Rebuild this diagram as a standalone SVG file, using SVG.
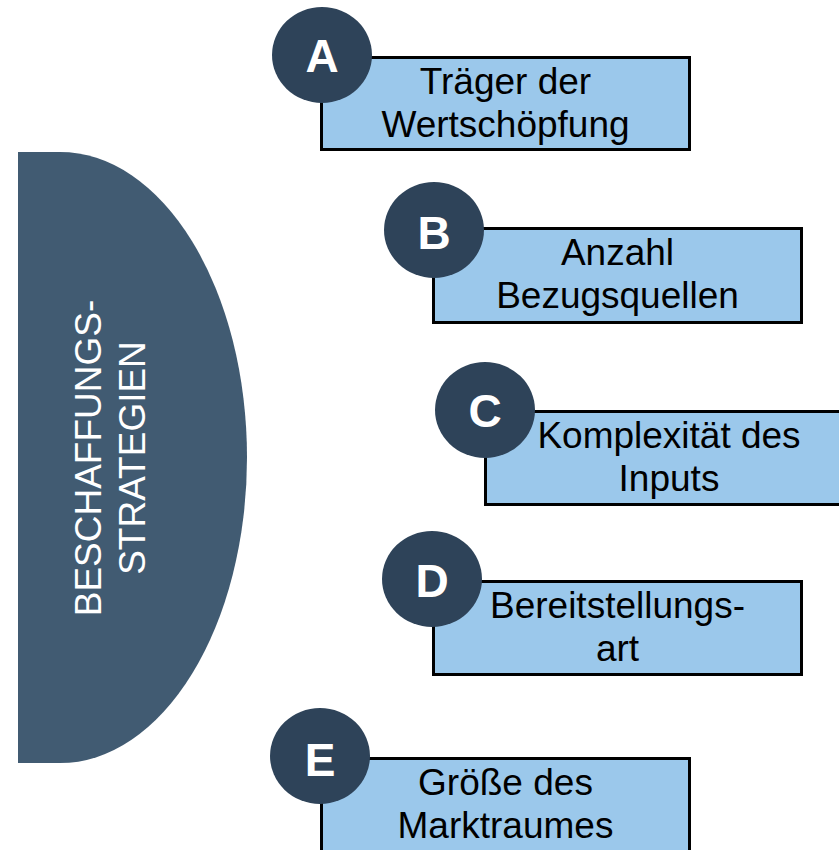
<svg xmlns="http://www.w3.org/2000/svg" width="839" height="850" viewBox="0 0 839 850">
<style>
.box{fill:#9bc8eb;stroke:#000;stroke-width:3}
.badge{fill:#2e4359}
.lbl{font-family:"Liberation Sans",Arial,sans-serif;font-size:37px;fill:#000;text-anchor:middle}
.ltr{font-family:"Liberation Sans",Arial,sans-serif;font-size:46px;font-weight:bold;fill:#fff;text-anchor:middle}
.vt{font-family:"Liberation Sans",Arial,sans-serif;font-size:37px;fill:#fff;text-anchor:middle}
</style>
<rect width="839" height="850" fill="#fff"/>
<g id="connectors"/>
<g id="strategien">
<path d="M18,152 H60 A187,305.5 0 0 1 60,763 H18 Z" fill="#415b72"/>
<text class="vt" transform="translate(101,458) rotate(-90)">BESCHAFFUNGS-</text>
<text class="vt" transform="translate(145,458) rotate(-90)">STRATEGIEN</text>
</g>
<g id="node-a">
<rect class="box" x="321.5" y="57.5" width="368" height="92"/>
<ellipse class="badge" cx="322" cy="55" rx="50" ry="48"/>
<text class="ltr" x="322" y="72">A</text>
<text class="lbl" x="505.5" y="94">Träger der</text>
<text class="lbl" x="505.5" y="137">Wertschöpfung</text>
</g>
<g id="node-b">
<rect class="box" x="433.5" y="228.5" width="368" height="94"/>
<ellipse class="badge" cx="434" cy="230" rx="50" ry="48"/>
<text class="ltr" x="434" y="249">B</text>
<text class="lbl" x="617.5" y="265">Anzahl</text>
<text class="lbl" x="617.5" y="308">Bezugsquellen</text>
</g>
<g id="node-c">
<rect class="box" x="485.5" y="411.5" width="368" height="93"/>
<ellipse class="badge" cx="485" cy="410" rx="50" ry="48"/>
<text class="ltr" x="485" y="427">C</text>
<text class="lbl" x="669" y="448">Komplexität des</text>
<text class="lbl" x="669" y="491">Inputs</text>
</g>
<g id="node-d">
<rect class="box" x="433.5" y="581.5" width="368" height="93"/>
<ellipse class="badge" cx="432" cy="579" rx="50" ry="48"/>
<text class="ltr" x="432" y="597">D</text>
<text class="lbl" x="617.5" y="618">Bereitstellungs-</text>
<text class="lbl" x="617.5" y="661">art</text>
</g>
<g id="node-e">
<rect class="box" x="321.5" y="758.5" width="368" height="94"/>
<ellipse class="badge" cx="320" cy="756" rx="50" ry="48"/>
<text class="ltr" x="320" y="776">E</text>
<text class="lbl" x="505.5" y="795">Größe des</text>
<text class="lbl" x="505.5" y="838">Marktraumes</text>
</g>
</svg>
